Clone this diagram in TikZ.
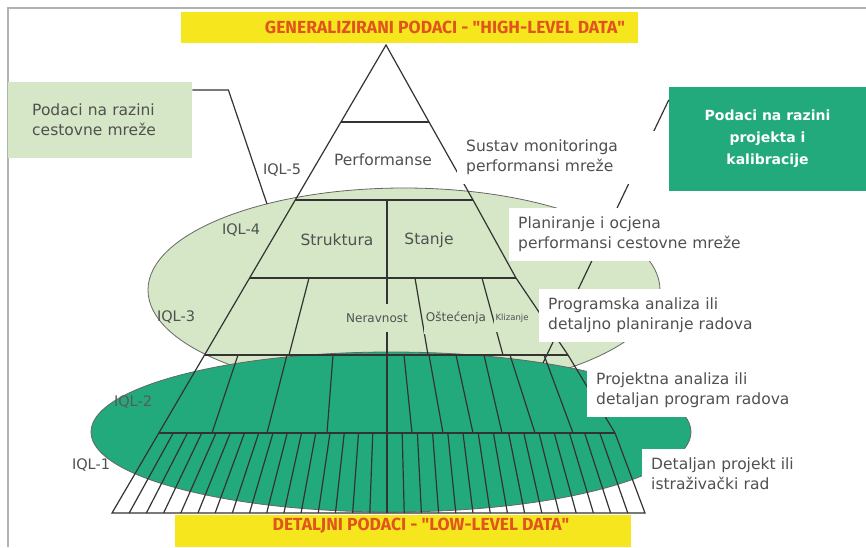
\documentclass[tikz,border=0pt]{standalone}
\usepackage{fontspec}
\setmainfont{DejaVu Sans}
\newfontfamily\tagfont{Fira Sans}
\usetikzlibrary{positioning}

\definecolor{lgreen}{HTML}{D5E7C6}
\definecolor{dgreen}{HTML}{22AA7C}
\definecolor{hlyellow}{HTML}{F6E61E}
\definecolor{tagred}{HTML}{E0541E}
\definecolor{txtgray}{HTML}{505050}

\newcommand\lblfont{\fontsize{15.5}{20}\selectfont}

\begin{document}
\begin{tikzpicture}[x=1pt, y=-1pt, every node/.style={text=txtgray},
  grid/.style={black!80, line width=1.2pt},
  note/.style={fill=white, inner sep=9pt, anchor=north west, align=left, font=\lblfont},
  iql/.style={font=\fontsize{14.5}{14.5}\selectfont},
  part/.style={font=\lblfont},
  defect/.style={fill=lgreen, inner xsep=2pt, inner ysep=10pt, font=\fontsize{12}{12}\selectfont},
  tagtext/.style={text=tagred, font=\tagfont\fontsize{17.5}{17.5}\selectfont\bfseries}]
\useasboundingbox (0,0) rectangle (866,547);

% Frame
\draw[gray!60, line width=1.5pt] (8,547) -- (8,8) -- (866,8);

% Levels (partly under the ellipses)
\node[iql] (iql1) at (91,465) {IQL-1};

% Ellipses before the grid
\filldraw[fill=lgreen, draw=black!60, line width=0.8pt] (404,290) ellipse [x radius=256pt, y radius=102pt]; % IQL-3/4
\filldraw[fill=dgreen, draw=black!60, line width=0.8pt] (391,432) ellipse [x radius=300pt, y radius=80pt];  % IQL-1/2
\coordinate (netfoot) at (267,204);
\coordinate (projfoot) at (543,363);

% Pyramid
\draw[grid] (386,45) -- (112,513) -- (645,513) -- (615,433) -- (568,355)
  -- (516,278) -- (473,200) -- (429,122) -- cycle;
\foreach \y/\xl/\xr in {122/341/429, 200/295/473, 278/250/516, 355/205/568, 433/159/615}
  \draw[grid] (\xl,\y) -- (\xr,\y);
\draw[grid] (387,200) -- (387,513);
% IQL-3
\foreach \xa/\xb in {309/289, 415/428, 482/503}
  \draw[grid] (\xa,278) -- (\xb,355);
% IQL-2
\foreach \xa/\xb in {238/212, 287/267, 333/327, 404/412, 429/443, 456/473, 484/502, 510/535, 544/573}
  \draw[grid] (\xa,355) -- (\xb,433);
% IQL-1
\foreach \i in {1,...,15}
  \draw[grid] ({159+14.25*\i},433) -- ({112+17.1875*\i},513);
\foreach \i in {1,...,14}
  \draw[grid] ({387+15.2*\i},433) -- ({387+17.2*\i},513);

% Pyramid texts
\node[part] (perf) at (383,160) {Performanse};
\node[part] (struk) at (337,240) {Struktura};
\node[part] (stanje) at (429,240) {Stanje};
\node[defect] (nerav) at (377,318) {Neravnost};
\node[defect] (ostec) at (456,318) {Oštećenja};
\node[defect, font=\fontsize{8.5}{8.5}\selectfont] (kliz) at (512,318) {Klizanje};

% Levels
\node[iql] (iql5) at (282,170) {IQL-5};
\node[iql] (iql4) at (241,230) {IQL-4};
\node[iql] (iql3) at (176,317) {IQL-3};
\node[iql, text=black!65] (iql2) at (133,402) {IQL-2};

% Boxes
\node[fill=lgreen, anchor=north west, minimum width=184pt, minimum height=76pt,
  text width=136pt, inner xsep=24pt, align=left, font=\lblfont] (netbox) at (8,82)
  {Podaci na razini\\cestovne mreže};
\node[fill=dgreen, minimum width=197pt, minimum height=104pt, align=center, text=white,
  font=\fontsize{14}{22}\selectfont\bfseries] (projbox) at (767.5,139)
  {Podaci na razini\\projekta i\\kalibracije};
\draw[black!80, line width=1.2pt] ([yshift=-8pt]netbox.north east) -- ++(36,0) -- (netfoot);
\draw[black!80, line width=1.2pt] ([yshift=-13pt]projbox.north west) -- (projfoot);

% Notes on the right
\node[note, text width=185pt] (sustav) at (457,131) {Sustav monitoringa\\performansi mreže};
\node[note, text width=226pt] (plan) at (509,208) {Planiranje i ocjena\\performansi cestovne mreže};
\node[note, text width=210pt] (progr) at (539,289) {Programska analiza ili\\detaljno planiranje radova};
\node[note, text width=198pt] (projekt) at (587,364) {Projektna analiza ili\\detaljan program radova};
\node[note, text width=150pt] (detalj) at (642,449) {Detaljan projekt ili\\istraživački rad};

% Tags
\fill[hlyellow] (181,12) rectangle (638,43);
\node[tagtext] (hightag) at (445,27) {GENERALIZIRANI PODACI - \textquotedbl HIGH-LEVEL DATA\textquotedbl};
\fill[hlyellow] (175,515) rectangle (631,547);
\node[tagtext] (lowtag) at (421,526) {DETALJNI PODACI - \textquotedbl LOW-LEVEL DATA\textquotedbl};
\end{tikzpicture}
\end{document}
